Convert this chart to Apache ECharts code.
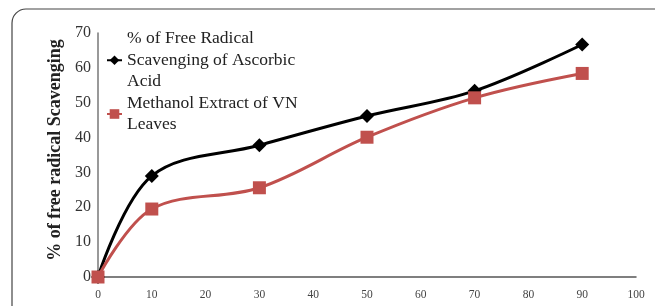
<!DOCTYPE html>
<html>
<head>
<meta charset="utf-8">
<script src="https://cdn.jsdelivr.net/npm/echarts@6/dist/echarts.min.js"></script>
<style>
  html, body { margin: 0; padding: 0; background: #fff; }
  #chart { width: 655px; height: 306px; }
</style>
</head>
<body>
<div id="chart"></div>
<script>
var concentrations = [0, 10, 30, 50, 70, 90];
var ascorbic = [0, 29, 37.8, 46.2, 53.4, 66.7];
var methanolVN = [0, 19.5, 25.6, 40.1, 51.4, 58.4];
var seriesNames = ['% of Free Radical\nScavenging of Ascorbic\nAcid', 'Methanol Extract of VN\nLeaves'];

var chart = echarts.init(document.getElementById('chart'));

function pairs(ys) {
    return concentrations.map(function (x, i) { return [x, ys[i]]; });
}

var option = {
    animation: false,
    textStyle: { fontFamily: 'Liberation Serif' },
    graphic: [{
        type: 'rect',
        shape: { x: 12, y: 9, width: 700, height: 400, r: 14 },
        style: { fill: 'none', stroke: '#444', lineWidth: 1.2 },
        silent: true
    }],
    grid: { left: 98, right: 19, top: 33, bottom: 29 },
    legend: {
        orient: 'vertical',
        left: 101,
        top: 23,
        itemGap: 0,
        itemWidth: 15,
        itemHeight: 12,
        textStyle: { fontFamily: 'Liberation Serif', fontSize: 17.5, color: '#222', lineHeight: 21.5 },
        data: seriesNames
    },
    xAxis: {
        type: 'value',
        min: 0,
        max: 100,
        interval: 10,
        splitLine: { show: false },
        axisTick: { show: false },
        axisLine: { lineStyle: { color: '#555', width: 1.5 } },
        axisLabel: { color: '#444', fontSize: 11.5, margin: 12 }
    },
    yAxis: {
        type: 'value',
        min: 0,
        max: 70,
        interval: 10,
        name: '% of free radical Scavenging',
        nameLocation: 'middle',
        nameGap: 28,
        nameTextStyle: { fontFamily: 'Liberation Serif', fontWeight: 'bold', fontSize: 18, color: '#222', padding: [0, 0, 0, 10] },
        splitLine: { show: false },
        axisTick: { show: false },
        axisLine: { show: true, lineStyle: { color: '#777', width: 1.5 } },
        axisLabel: { color: '#333', fontSize: 16, margin: 7 }
    },
    series: [{
        name: seriesNames[0],
        type: 'line',
        smooth: 0.35,
        data: pairs(ascorbic),
        symbol: 'diamond',
        symbolSize: 14,
        lineStyle: { color: '#000', width: 3 },
        itemStyle: { color: '#000' },
        z: 3
    }, {
        name: seriesNames[1],
        type: 'line',
        smooth: 0.35,
        data: pairs(methanolVN),
        symbol: 'rect',
        symbolSize: 13,
        lineStyle: { color: '#c0504d', width: 3 },
        itemStyle: { color: '#c0504d' },
        z: 4
    }]
};

chart.setOption(option);
</script>
</body>
</html>
